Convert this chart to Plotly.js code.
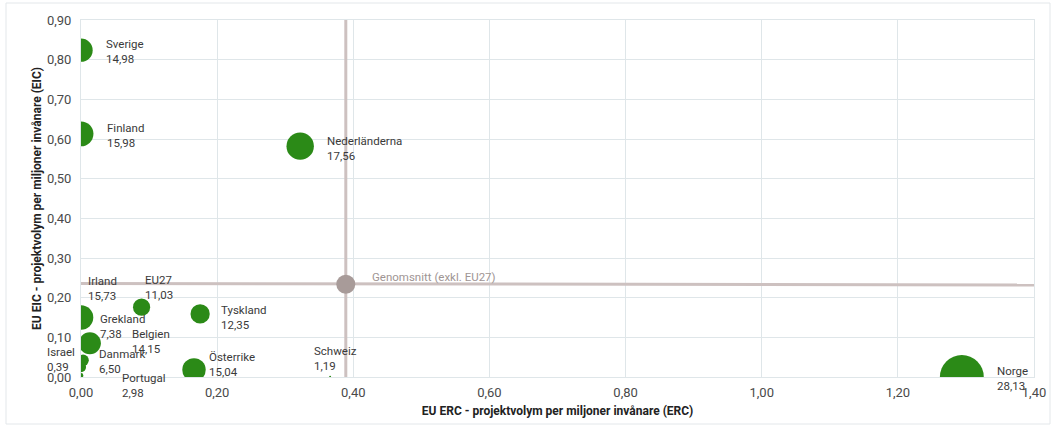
<!DOCTYPE html>
<html>
<head>
<meta charset="utf-8">
<script src="https://cdn.plot.ly/plotly-3.0.1.min.js"></script>
<style>
  html, body { margin: 0; padding: 0; background: #fff; }
  #chart { width: 1058px; height: 434px; }
</style>
</head>
<body>
<div id="chart"></div>
<script>
// ---- Data ----
const countries = ["Sverige", "Finland", "Nederländerna", "Irland", "EU27", "Grekland", "Tyskland",
                   "Belgien", "Israel", "Danmark", "Österrike", "Schweiz", "Portugal", "Norge"];
const ercPerMillion = [0.000, 0.000, 0.322, 0.000, 0.089, 0.003, 0.175,
                       0.013, 0.000, 0.000, 0.166, 0.366, 0.000, 1.294];
const eicPerMillion = [0.824, 0.613, 0.582, 0.150, 0.176, 0.042, 0.159,
                       0.085, 0.002, 0.025, 0.018, 0.001, 0.004, 0.000];
const projectVolume = [14.98, 15.98, 17.56, 15.73, 11.03, 7.38, 12.35,
                       14.15, 0.39, 6.50, 15.04, 1.19, 2.98, 28.13];
const averageName = "Genomsnitt (exkl. EU27)";
const averageErc = 0.389;
const averageEic = 0.234;

const xTicks = [0, 0.2, 0.4, 0.6, 0.8, 1.0, 1.2, 1.4];
const yTicks = [0, 0.1, 0.2, 0.3, 0.4, 0.5, 0.6, 0.7, 0.8, 0.9];
const xTitle = "EU ERC - projektvolym per miljoner invånare (ERC)";
const yTitle = "EU EIC - projektvolym per miljoner invånare (EIC)";

// ---- Label placement (top-left corner of each label, in data units) ----
const labelAt = {
  "Sverige": [0.037, 0.862], "Finland": [0.038, 0.650], "Nederländerna": [0.362, 0.618],
  "Irland": [0.010, 0.265], "EU27": [0.094, 0.267], "Grekland": [0.028, 0.169],
  "Tyskland": [0.206, 0.192], "Belgien": [0.075, 0.131], "Israel": [-0.050, 0.086],
  "Danmark": [0.027, 0.081], "Österrike": [0.188, 0.073], "Schweiz": [0.343, 0.088],
  "Portugal": [0.060, 0.020], "Norge": [1.346, 0.038]
};
const avgLabelAt = [0.428, 0.274];

const xMax = 1.4, yMax = 0.9;
const fmt = v => v.toFixed(2).replace(".", ",");
const FONT = "Roboto, 'Liberation Sans', Arial, sans-serif";

const green = "#2b8a17";
const avgColor = "#a89b99";
const avgLine = "#cdc1c0";
const gridColor = "#dfe6e9";

const traces = [
  // average crosshair lines
  { type: "scatter", mode: "lines", x: [averageErc, averageErc], y: [0, yMax],
    line: { color: avgLine, width: 3 }, hoverinfo: "skip", showlegend: false },
  { type: "scatter", mode: "lines", x: [0, xMax], y: [averageEic + 0.002, averageEic - 0.002],
    line: { color: avgLine, width: 3 }, hoverinfo: "skip", showlegend: false },
  // countries
  { type: "scatter", mode: "markers", x: ercPerMillion, y: eicPerMillion, text: countries,
    marker: { color: green, size: projectVolume.map(v => v * 1.56), sizemode: "diameter",
              line: { width: 0 }, opacity: 1 },
    showlegend: false },
  // average point
  { type: "scatter", mode: "markers", x: [averageErc], y: [averageEic], text: [averageName],
    marker: { color: avgColor, size: 19, line: { width: 0 } }, showlegend: false }
];

const annotations = countries.map((c, i) => ({
  xref: "paper", yref: "paper",
  x: labelAt[c][0] / xMax, y: labelAt[c][1] / yMax, xshift: -2,
  xanchor: "left", yanchor: "top", align: "left", showarrow: false,
  text: c + "<br>" + fmt(projectVolume[i]),
  font: { family: FONT, size: 11.5, color: "#3a3a3a" }
}));
annotations.push({
  xref: "paper", yref: "paper", x: avgLabelAt[0] / xMax, y: avgLabelAt[1] / yMax, xshift: -2,
  xanchor: "left", yanchor: "top", align: "left", showarrow: false,
  text: averageName, font: { family: FONT, size: 11.5, color: "#a09594" }
});

const layout = {
  width: 1058, height: 434,
  margin: { l: 81, r: 24, t: 20, b: 57 },
  paper_bgcolor: "#ffffff", plot_bgcolor: "#ffffff",
  separators: ", ",
  font: { family: FONT, size: 13, color: "#4a4a4a" },
  xaxis: {
    range: [0, xMax], tickvals: xTicks, tickformat: ".2f",
    showgrid: true, gridcolor: gridColor, gridwidth: 1, zeroline: false,
    showline: true, linecolor: gridColor, linewidth: 1, mirror: true,
    ticks: "", ticklabelstandoff: 3,
    tickfont: { family: FONT, size: 13, color: "#4a4a4a" },
    title: { text: xTitle, standoff: 8, font: { family: FONT, size: 12, color: "#222", weight: "bold" } }
  },
  yaxis: {
    range: [0, yMax], tickvals: yTicks, tickformat: ".2f",
    showgrid: true, gridcolor: gridColor, gridwidth: 1, zeroline: false,
    showline: true, linecolor: gridColor, linewidth: 1, mirror: true,
    ticks: "", ticklabelstandoff: 6,
    tickfont: { family: FONT, size: 13, color: "#4a4a4a" },
    title: { text: yTitle, standoff: 2, font: { family: FONT, size: 12, color: "#222", weight: "bold" } }
  },
  shapes: [{
    type: "rect", xref: "paper", yref: "paper",
    x0: (6 - 81) / 953, x1: (1050 - 81) / 953,
    y0: (377 - 424) / 357, y1: (377 - 3) / 357,
    line: { color: "#e3e7ea", width: 1 }, fillcolor: "rgba(0,0,0,0)", layer: "below"
  }],
  annotations: annotations
};

Plotly.newPlot("chart", traces, layout, { displayModeBar: false, staticPlot: true });
</script>
</body>
</html>
